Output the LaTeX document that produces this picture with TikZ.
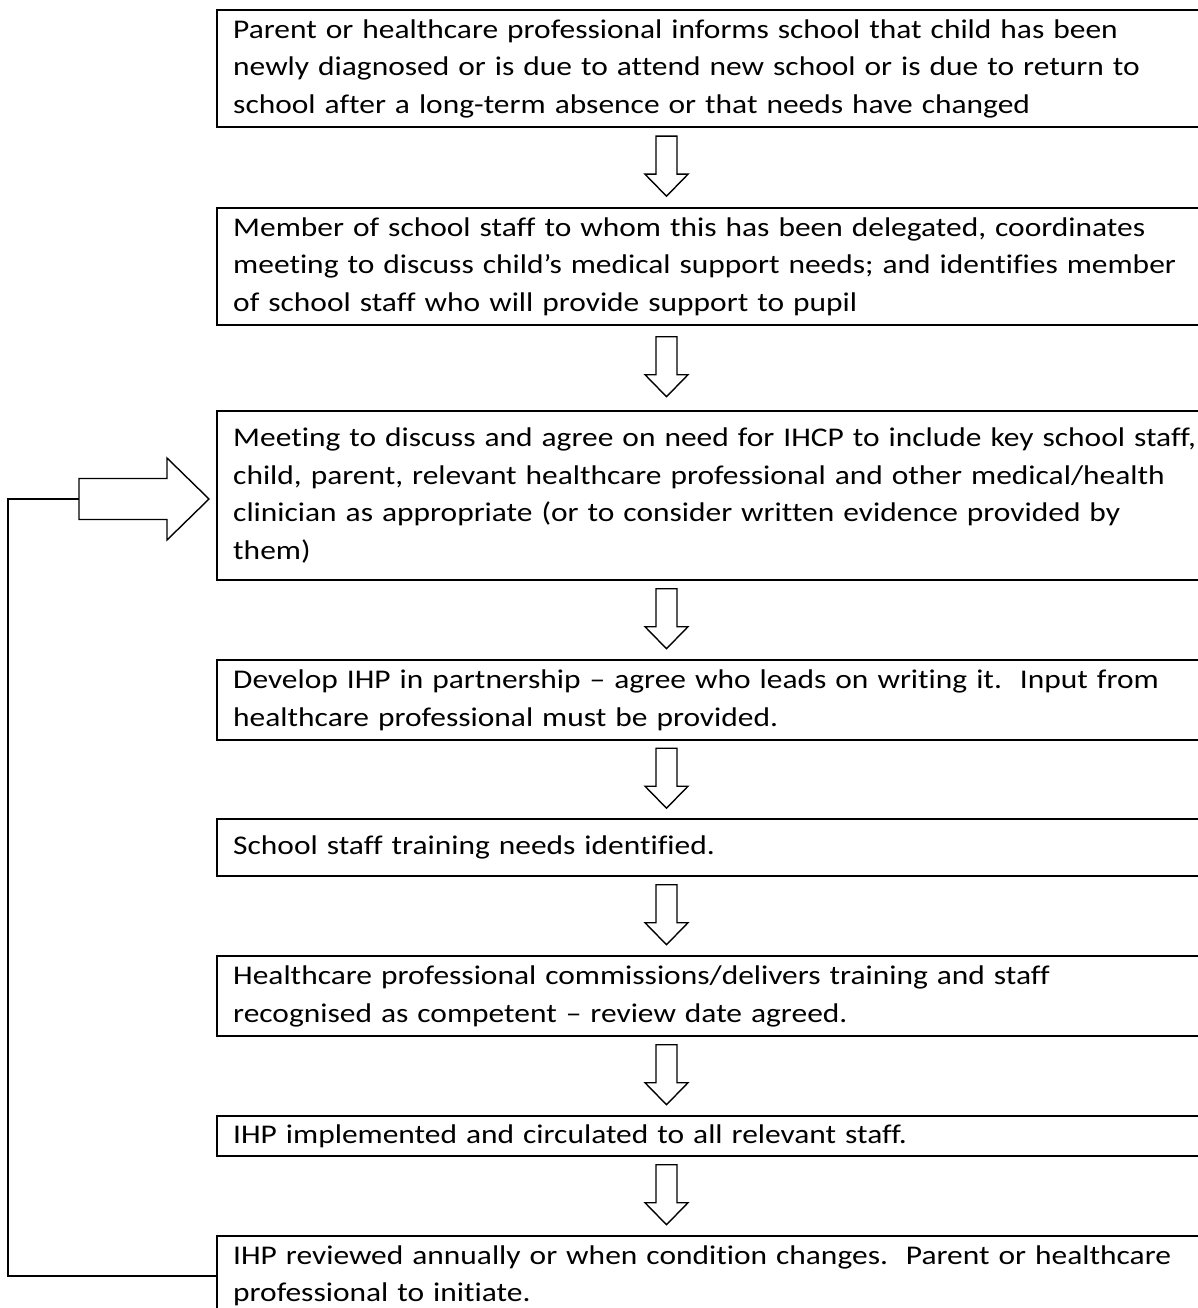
\documentclass[tikz,border=0pt]{standalone}
\usepackage{fontspec}
\setmainfont{Carlito}[FakeStretch=1.165, Ligatures=NoCommon]
\usetikzlibrary{calc}
\begin{document}
\begin{tikzpicture}[x=1pt,y=-1pt,
  box/.style={draw, line width=2.4pt, anchor=north west, align=left,
    text width=1100pt, inner xsep=16pt, inner ysep=0pt,
    font=\fontsize{27}{37.5}\selectfont\frenchspacing},
  arrowline/.style={draw, line width=1.4pt, fill=white, line join=miter},
  feedback/.style={draw, line width=2pt},
  downarrow/.pic={\path[arrowline] (-10.5,0) -- (10.5,0) -- (10.5,38) -- (21.5,38) -- (0,60) -- (-21.5,38) -- (-10.5,38) -- cycle;},
  rightarrow/.pic={\path[arrowline] (0,-20.5) -- (88,-20.5) -- (88,-41) -- (130,0) -- (88,41) -- (88,20.5) -- (0,20.5) -- cycle;}
  ]
\useasboundingbox (0,0) rectangle (1198,1308);
\clip (0,0) rectangle (1198,1308);

\node[box, minimum height=117pt] (b1) at (216,9) {Parent or healthcare professional informs school that child has been\\ newly diagnosed or is due to attend new school or is due to return to\\ school after a long-term absence or that needs have changed};
\node[box, minimum height=117pt] (b2) at (216,207) {Member of school staff to whom this has been delegated, coordinates\\ meeting to discuss child’s medical support needs; and identifies member\\ of school staff who will provide support to pupil};
\node[box, minimum height=169pt] (b3) at (216,410) {Meeting to discuss and agree on need for IHCP to include key school staff,\\ child, parent, relevant healthcare professional and other medical/health\\ clinician as appropriate (or to consider written evidence provided by\\ them)};
\node[box, minimum height=80pt] (b4) at (216,659) {Develop IHP in partnership – agree who leads on writing it.~ Input from\\ healthcare professional must be provided.};
\node[box, minimum height=57pt] (b5) at (216,818) {School staff training needs identified.};
\node[box, minimum height=80pt] (b6) at (216,955) {Healthcare professional commissions/delivers training and staff\\ recognised as competent – review date agreed.};
\node[box, minimum height=40pt] (b7) at (216,1115) {IHP implemented and circulated to all relevant staff.};
\node[box, minimum height=79pt] (b8) at (216,1235) {IHP reviewed annually or when condition changes.~ Parent or healthcare\\ professional to initiate.};

\pic at ($(b1.south west)!0.5!(b2.north west)+(450.5,-31.5)$) {downarrow};
\pic at ($(b2.south west)!0.5!(b3.north west)+(450.5,-31.5)$) {downarrow};
\pic at ($(b3.south west)!0.5!(b4.north west)+(450.5,-31.5)$) {downarrow};
\pic at ($(b4.south west)!0.5!(b5.north west)+(450.5,-31.5)$) {downarrow};
\pic at ($(b5.south west)!0.5!(b6.north west)+(450.5,-31.5)$) {downarrow};
\pic at ($(b6.south west)!0.5!(b7.north west)+(450.5,-31.5)$) {downarrow};
\pic at ($(b7.south west)!0.5!(b8.north west)+(450.5,-31.5)$) {downarrow};

\coordinate (fbk) at (79,499);
\draw[feedback] (b8.west) -- ++(-208,0) |- (fbk);
\pic at (fbk) {rightarrow};
\end{tikzpicture}
\end{document}
